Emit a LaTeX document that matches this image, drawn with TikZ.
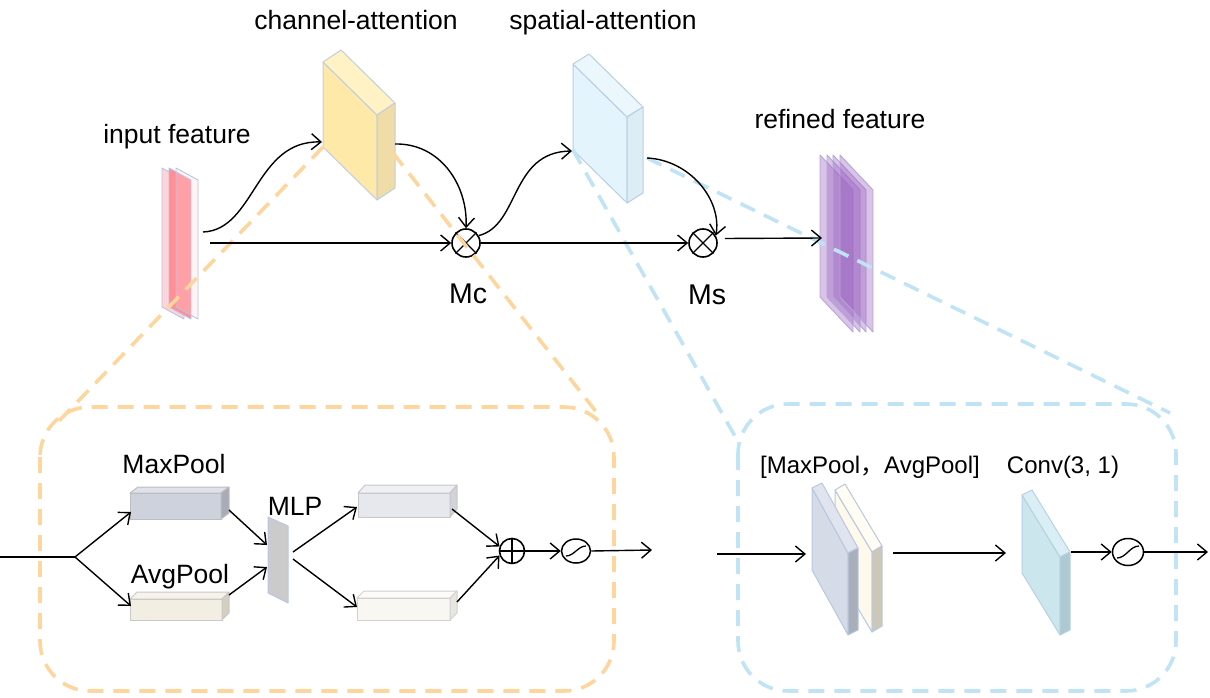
\documentclass[tikz,border=0pt]{standalone}
\usepackage{fontspec}
\setmainfont{Liberation Sans}
\newfontfamily\cjkfont{Noto Sans CJK SC}
\usetikzlibrary{arrows.meta,calc,shapes.geometric}

% face colours: F front, T top, S side, B border
\definecolor{yelF}{HTML}{FFE9A8}\definecolor{yelT}{HTML}{FFF2C4}\definecolor{yelS}{HTML}{EFDCA6}\definecolor{yelB}{HTML}{C3CEDD}
\definecolor{sklF}{HTML}{E3F4FC}\definecolor{sklT}{HTML}{EBF7FD}\definecolor{sklS}{HTML}{DCEDF5}\definecolor{sklB}{HTML}{B9CEE4}
\definecolor{mpF}{HTML}{CED2DD}\definecolor{mpT}{HTML}{DFE2EA}\definecolor{mpS}{HTML}{A9ACB6}\definecolor{mpB}{HTML}{BDBDC0}
\definecolor{apF}{HTML}{F3EEE2}\definecolor{apT}{HTML}{F7F3EA}\definecolor{apS}{HTML}{D3CEC0}\definecolor{apB}{HTML}{C8C8C8}
\definecolor{urF}{HTML}{E7E8ED}\definecolor{urT}{HTML}{EFF0F3}\definecolor{urS}{HTML}{D2D3D8}\definecolor{urB}{HTML}{C8C8CA}
\definecolor{lrF}{HTML}{F8F7F2}\definecolor{lrT}{HTML}{FCFBF8}\definecolor{lrS}{HTML}{E7E6DF}\definecolor{lrB}{HTML}{D0D0D0}
\definecolor{crF}{HTML}{FFF9EB}\definecolor{crT}{HTML}{FFFCF3}\definecolor{crS}{HTML}{CDC7B7}\definecolor{crB}{HTML}{B8C8E0}
\definecolor{bgF}{HTML}{D5DBE7}\definecolor{bgT}{HTML}{DFE4EE}\definecolor{bgS}{HTML}{A8AFBB}\definecolor{bgB}{HTML}{B8C8E0}
\definecolor{cvF}{HTML}{CCE6EE}\definecolor{cvT}{HTML}{D9EFF5}\definecolor{cvS}{HTML}{AEC9CF}\definecolor{cvB}{HTML}{B8D0E4}
\definecolor{mlpF}{HTML}{CBCBCB}\definecolor{mlpB}{HTML}{B9C7E2}
\definecolor{pinkL}{HTML}{FFD4D9}\definecolor{pinkD}{HTML}{FF8F95}\definecolor{stackB}{HTML}{B8C2E4}
\definecolor{purp}{HTML}{9A62C0}\definecolor{purpB}{HTML}{B3A6DA}
\definecolor{dashO}{HTML}{FFD59E}\definecolor{dashB}{HTML}{C0E3F5}

% slab: name, x, y (front top-left), width, slant drop, height, depth dx, depth dy, colour prefix
\newcommand{\slabbox}[9]{%
  \coordinate (#1-tl) at (#2,#3);
  \coordinate (#1-tr) at ({#2+#4},{#3+#5});
  \coordinate (#1-br) at ({#2+#4},{#3+#5+#6});
  \coordinate (#1-bl) at (#2,{#3+#6});
  \coordinate (#1-d) at (#7,#8);
  \filldraw[fill=#9F, draw=#9B, line width=1pt] (#1-tl) -- (#1-tr) -- (#1-br) -- (#1-bl) -- cycle;
  \filldraw[fill=#9T, draw=#9B, line width=1pt] (#1-tl) -- ($(#1-tl)+(#1-d)$) -- ($(#1-tr)+(#1-d)$) -- (#1-tr) -- cycle;
  \filldraw[fill=#9S, draw=#9B, line width=1pt] (#1-tr) -- ($(#1-tr)+(#1-d)$) -- ($(#1-br)+(#1-d)$) -- (#1-br) -- cycle;
}

\begin{document}
\begin{tikzpicture}[x=1pt, y=-1pt, line join=round,
  arr/.style={line width=1.4pt, -{Straight Barb[length=9.5pt,width=16pt]}},
  ln/.style={line width=1.4pt},
  odash/.style={draw=dashO, line width=3.6pt, dash pattern=on 16pt off 10pt},
  bdash/.style={draw=dashB, line width=3.6pt, dash pattern=on 16pt off 10pt},
  lbl/.style={font=\fontsize{26.5}{30}\selectfont, anchor=base, inner sep=0pt},
  lbls/.style={font=\fontsize{24}{28}\selectfont, anchor=base, inner sep=0pt},
  lblm/.style={font=\fontsize{28.5}{32}\selectfont, anchor=base, inner sep=0pt},
  opnode/.style={circle, draw, line width=1.6pt, minimum size=28pt, inner sep=0pt},
  addnode/.style={circle, draw, line width=1.6pt, minimum size=25pt, inner sep=0pt},
  signode/.style={ellipse, draw, line width=1.5pt, inner sep=0pt},
  sheet/.style={draw=stackB, line width=0.9pt},
  psheet/.style={draw=purpB, line width=0.9pt, fill=purp, fill opacity=0.38},
]
\useasboundingbox (0,0) rectangle (1210,698);

% ---------- detail frames ----------
\draw[odash, rounded corners=50pt] (40,407) rectangle (614,691);
\draw[bdash, rounded corners=50pt] (738,404) rectangle (1176,691);
\coordinate (of-nw) at (57,423);
\coordinate (of-ne) at (601,418);
\coordinate (bf-nw) at (736,438);
\coordinate (bf-ne) at (1170,413);

% ---------- input feature ----------
\filldraw[sheet, fill=pinkL] (162,168) -- ++(22,12) -- ++(0,139) -- ++(-22,-12) -- cycle;
\filldraw[sheet, fill=pinkD] (169,168) -- ++(22,12) -- ++(0,139) -- ++(-22,-12) -- cycle;
\filldraw[sheet, fill=pinkL, fill opacity=0.25] (176,168) -- ++(22,12) -- ++(0,139) -- ++(-22,-12) -- cycle;
\coordinate (in-c) at (203,232);
\coordinate (in-e) at (210,243);

% ---------- refined feature ----------
\foreach \dx in {0,7,13,20}
  \filldraw[psheet] ({820+\dx},155) -- ++(33,35) -- ++(0,142) -- ++(-33,-35) -- cycle;
\coordinate (rf-in) at (822,238);

% ---------- attention blocks ----------
\slabbox{ca}{323}{62}{54}{53}{85}{18}{-12}{yel}
\slabbox{sa}{573}{64}{54}{53}{86}{16}{-10}{skl}
\coordinate (ca-w) at (322,142);
\coordinate (ca-e) at (395,144);
\coordinate (ca-z) at (393,153);
\coordinate (sa-w) at (572,151);
\coordinate (sa-e) at (647,158);

% ---------- operators ----------
\node[opnode] (Mc) at (466,243) {};
\draw[line width=1.4pt] (Mc.45) -- (Mc.225) (Mc.135) -- (Mc.315);
\node[opnode] (Ms) at (703,243) {};
\draw[line width=1.4pt] (Ms.45) -- (Ms.225) (Ms.135) -- (Ms.315);

% ---------- zoom guides ----------
\draw[odash] (ca-bl) -- (of-nw);
\draw[odash] (ca-z) -- (of-ne);
\draw[bdash] (sa-bl) -- (bf-nw);
\draw[bdash] (sa-e) -- (bf-ne);

% ---------- main flow ----------
\draw[arr] (in-c) .. controls (255,230) and (255,140) .. (ca-w);
\draw[arr] (in-e) -- (Mc.west);
\draw[arr] (ca-e) .. controls (440,143) and (468,185) .. (Mc.north);
\draw[arr] (Mc.30) .. controls (520,225) and (510,152) .. (sa-w);
\draw[arr] (Mc.east) -- (Ms.west);
\draw[arr] (sa-e) .. controls (690,160) and (722,200) .. (Ms.30);
\draw[arr] ($(Ms.east)+(7,-4.5)$) -- (rf-in);

% ---------- top labels ----------
\node[lbl] (t-ca) at (356,30) {channel-attention};
\node[lbl] (t-sa) at (603,30) {spatial-attention};
\node[lbl] (t-in) at (177,144) {input feature};
\node[lbl] (t-rf) at (840,129) {refined feature};
\node[lblm] (t-mc) at (468,303) {Mc};
\node[lblm] (t-ms) at (707,304) {Ms};

% ---------- channel attention detail ----------
\slabbox{mp}{130}{493}{91}{0}{26}{8}{-6}{mp}
\slabbox{ap}{130}{599}{92}{0}{21}{7}{-7}{ap}
\slabbox{ur}{358}{493}{92}{0}{24}{7}{-8}{ur}
\slabbox{lr}{357}{598}{93}{0}{22}{7}{-7}{lr}
\filldraw[fill=mlpF, draw=mlpB, line width=1pt] (268,517) -- (288,526) -- (288,603) -- (268,593) -- cycle;
\node[lbl] (t-mp) at (174,473) {MaxPool};
\node[lbl] (t-ap) at (180,583) {AvgPool};
\node[lbl] (t-mlp) at (295,515) {MLP};

\coordinate (cin) at (0,557);
\coordinate (csplit) at (75,557);
\coordinate (mp-in) at (131,512);
\coordinate (ap-in) at (131,606);
\coordinate (mp-out) at (229,510);
\coordinate (ap-out) at (229,595);
\coordinate (mlp-in1) at (267,545);
\coordinate (mlp-in2) at (267,567);
\coordinate (mlp-o1) at (293,552);
\coordinate (mlp-o2) at (293,559);
\coordinate (ur-in) at (357,507);
\coordinate (lr-in) at (357,607);
\coordinate (ur-out) at (452,509);
\coordinate (lr-out) at (457,602);
\coordinate (cout) at (652,550);

\node[addnode] (add) at (512,551) {};
\draw[line width=1.4pt] (add.north) -- (add.south) (add.west) -- (add.east);
\node[signode, minimum width=29pt, minimum height=24pt] (sigA) at (576,551) {};
\draw[line width=1.3pt] ($(sigA.center)+(-10,5)$) .. controls ($(sigA.center)+(-2,5)$) and ($(sigA.center)+(2,-5)$) .. ($(sigA.center)+(10,-5)$);

\draw[ln] (cin) -- (csplit);
\draw[arr] (csplit) -- (mp-in);
\draw[arr] (csplit) -- (ap-in);
\draw[arr] (mp-out) -- (mlp-in1);
\draw[arr] (ap-out) -- (mlp-in2);
\draw[arr] (mlp-o1) -- (ur-in);
\draw[arr] (mlp-o2) -- (lr-in);
\draw[arr] (ur-out) -- (add.160);
\draw[arr] (lr-out) -- (add.200);
\draw[arr] (add.east) -- (sigA.west);
\draw[arr] (sigA.east) -- (cout);

% ---------- spatial attention detail ----------
\slabbox{cr}{835}{490}{37}{62}{80}{10}{-6}{cr}
\slabbox{bg}{812}{488}{36}{65}{82}{10}{-5}{bg}
\slabbox{cv}{1022}{495}{38}{62}{78}{10}{-5}{cv}
\node[lbls] (t-pool) at (870,473) {[MaxPool{\cjkfont ，}AvgPool]};
\node[lbls] (t-conv) at (1063,473) {Conv(3, 1)};

\coordinate (sin) at (717,554);
\coordinate (sp-in) at (806,554);
\coordinate (sp-out) at (893,553);
\coordinate (cv-in) at (1006,553);
\coordinate (cv-out) at (1071,552);
\coordinate (sout) at (1208,552);
\node[signode, minimum width=31pt, minimum height=27pt] (sigB) at (1128,552) {};
\draw[line width=1.3pt] ($(sigB.center)+(-11,6)$) .. controls ($(sigB.center)+(-2,6)$) and ($(sigB.center)+(2,-6)$) .. ($(sigB.center)+(11,-6)$);

\draw[arr] (sin) -- (sp-in);
\draw[arr] (sp-out) -- (cv-in);
\draw[arr] (cv-out) -- (sigB.west);
\draw[arr] (sigB.east) -- (sout);
\end{tikzpicture}
\end{document}
